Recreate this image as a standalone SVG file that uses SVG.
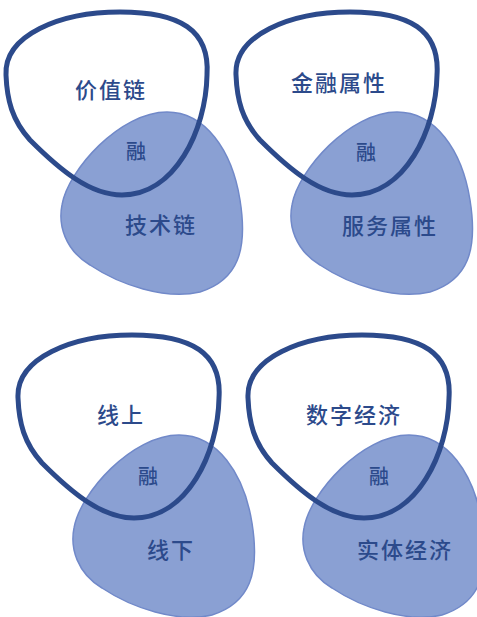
<svg xmlns="http://www.w3.org/2000/svg" xmlns:xlink="http://www.w3.org/1999/xlink" width="477" height="617" viewBox="0 0 477 617">
<style>
.blob{fill:#8aa0d3;stroke:#7189c9;stroke-width:1.5}
.ring{fill:none;stroke:#2c4a8b;stroke-width:5}
.t{font-family:"Noto Sans CJK SC","Noto Sans",sans-serif;fill:#2c4a8b;text-anchor:middle;font-size:22px;font-weight:500;letter-spacing:2px}
.r{font-size:20px;letter-spacing:0}
</style>
<defs>
<path id="blobShape" d="M167,112 C205,112 232,150 240,200 C248,250 238,280 200,292 C165,300 120,285 90,265 C65,250 58,225 62,205 C68,170 120,112 167,112 Z"/>
<path id="ringShape" d="M6,75 C4,35 60,12 120,12 C180,12 210,30 207,75 C206,130 175,195 122,195 C90,195 60,170 30,140 C12,120 7,100 6,75 Z"/>
</defs>
<rect width="477" height="617" fill="#ffffff"/>
<g id="panel-value-tech">
<g id="tech-chain"><use xlink:href="#blobShape" class="blob"/></g>
<g id="value-chain"><use xlink:href="#ringShape" class="ring"/></g>
<text class="t" x="111" y="98">价值链</text>
<text class="t r" x="136" y="159">融</text>
<text class="t" x="161" y="233">技术链</text>
</g>
<g id="panel-finance-service" transform="translate(230,0)">
<g id="service-attr"><use xlink:href="#blobShape" class="blob"/></g>
<g id="finance-attr"><use xlink:href="#ringShape" class="ring"/></g>
<text class="t" x="109" y="91">金融属性</text>
<text class="t r" x="136" y="160">融</text>
<text class="t" x="160" y="234">服务属性</text>
</g>
<g id="panel-online-offline" transform="translate(12,323)">
<g id="offline"><use xlink:href="#blobShape" class="blob"/></g>
<g id="online"><use xlink:href="#ringShape" class="ring"/></g>
<text class="t" x="109" y="100">线上</text>
<text class="t r" x="136" y="161">融</text>
<text class="t" x="159" y="235">线下</text>
</g>
<g id="panel-digital-real" transform="translate(242,323)">
<g id="real-economy"><use xlink:href="#blobShape" class="blob"/></g>
<g id="digital-economy"><use xlink:href="#ringShape" class="ring"/></g>
<text class="t" x="112" y="100">数字经济</text>
<text class="t r" x="137" y="161">融</text>
<text class="t" x="163" y="235">实体经济</text>
</g>
</svg>
